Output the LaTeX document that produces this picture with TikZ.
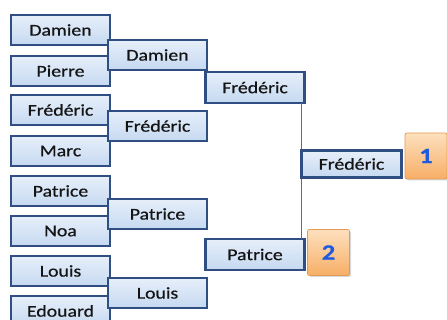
\documentclass[tikz,border=0pt]{standalone}
\usepackage{fontspec}
\setmainfont{Carlito}[FakeStretch=1.2, FakeBold=0.6]
\usetikzlibrary{shadows}
\definecolor{boxborder}{HTML}{2F4F82}
\definecolor{boxtop}{HTML}{E6EFFA}
\definecolor{boxbot}{HTML}{C6D9F1}
\definecolor{linkcol}{HTML}{4372B4}
\definecolor{txt}{HTML}{141414}
\definecolor{ortop}{HTML}{FDE0BE}
\definecolor{orbot}{HTML}{F7AE66}
\definecolor{orborder}{HTML}{E39A55}
\definecolor{numcol}{HTML}{1F5BE0}
\begin{document}
\begin{tikzpicture}[x=1pt,y=-1pt,
  player/.style={draw=boxborder, line width=2.2pt, top color=boxtop, bottom color=boxbot,
    minimum width=99pt, minimum height=30pt, inner sep=0pt, outer sep=0pt,
    text=txt, font=\fontsize{16.5}{18}\selectfont,
    drop shadow={shadow xshift=1.2pt, shadow yshift=-1.2pt, opacity=0.25}},
  rank/.style={draw=orborder, line width=0.8pt, rounded corners=2pt, top color=ortop, bottom color=orbot,
    minimum width=42pt, minimum height=46pt, inner sep=0pt,
    text=numcol, font=\fontsize{22}{24}\selectfont\bfseries,
    drop shadow={shadow xshift=1.5pt, shadow yshift=-1.5pt, opacity=0.3}},
  link/.style={draw=linkcol, line width=1pt}]
\useasboundingbox (0,0) rectangle (447,320);
% round 1
\node[player] (a1) at (60.5,30) {Damien};
\node[player] (a2) at (60.5,71) {Pierre};
\node[player] (a3) at (60.5,110) {Frédéric};
\node[player] (a4) at (60.5,151) {Marc};
\node[player] (a5) at (60.5,191) {Patrice};
\node[player] (a6) at (60.5,231) {Noa};
\node[player] (a7) at (60.5,271) {Louis};
\node[player] (a8) at (60.5,311) {Edouard};
% round 2
\node[player] (b1) at (157.5,55) {Damien};
\node[player] (b2) at (157.5,126) {Frédéric};
\node[player] (b3) at (157.5,214) {Patrice};
\node[player] (b4) at (157.5,293) {Louis};
% round 3
\node[player, minimum height=31pt] (c1) at (255,87.5) {Frédéric};
\node[player, minimum height=31pt] (c2) at (255,254.5) {Patrice};
\draw[link] ([xshift=-3pt]c1.south east) -- ([xshift=-3pt]c2.north east);
% final
\node[player, minimum width=100pt, minimum height=27pt] (d1) at (351.5,164) {Frédéric};
\node[rank] (r1) at (426,156) {1};
\node[rank] (r2) at (328.5,252.5) {2};
\end{tikzpicture}
\end{document}
